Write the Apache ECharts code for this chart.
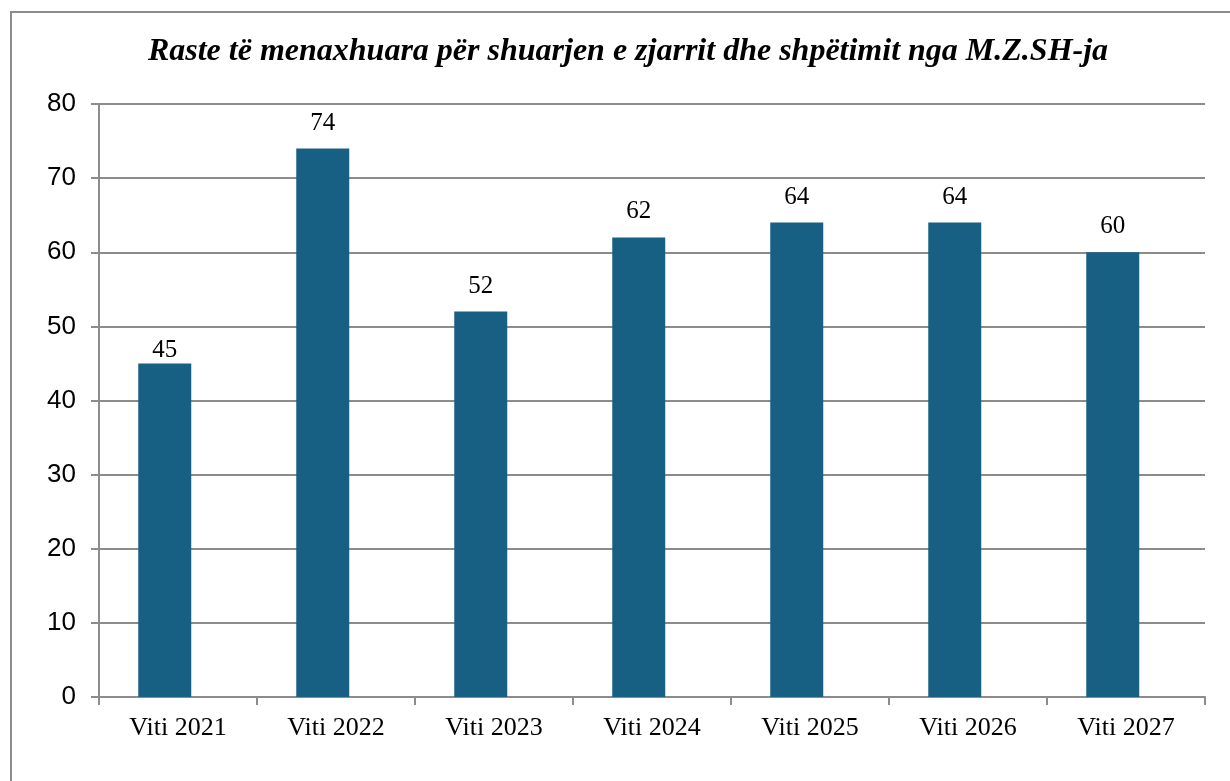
<!DOCTYPE html>
<html>
<head>
<meta charset="utf-8">
<script src="https://cdn.jsdelivr.net/npm/echarts@6/dist/echarts.min.js"></script>
<style>
  html, body { margin: 0; padding: 0; background: #fff; }
  #chart { width: 1230px; height: 781px; }
</style>
</head>
<body>
<div id="chart"></div>
<script>
const categories = ['Viti 2021', 'Viti 2022', 'Viti 2023', 'Viti 2024', 'Viti 2025', 'Viti 2026', 'Viti 2027'];
const values = [45, 74, 52, 62, 64, 64, 60];
const titleText = 'Raste të menaxhuara për shuarjen e zjarrit dhe shpëtimit nga M.Z.SH-ja';

const init = () => {
    const myChart = echarts.init(document.getElementById('chart'));
    // first label sits closer to its bar in the original
    const barData = values.map((v, i) => i === 0 ? { value: v, label: { distance: 1 } } : v);
    let option = {
        animation: false,
        title: {
            text: titleText,
            left: 623,
            top: 31,
            textAlign: 'center',
            textStyle: {
                fontFamily: 'Liberation Serif',
                fontStyle: 'italic',
                fontWeight: 'bold',
                fontSize: 32,
                color: '#000'
            }
        },
        graphic: [
            {
                type: 'rect',
                shape: { x: 11, y: 12, width: 1240, height: 800 },
                style: { fill: 'none', stroke: '#8c8c8c', lineWidth: 2 },
                z: -1
            }
        ],
        grid: {
            left: 99,
            right: 25,
            top: 104,
            bottom: 84,
            containLabel: false
        },
        xAxis: {
            type: 'category',
            data: categories,
            axisLine: { lineStyle: { color: '#8c8c8c', width: 2 } },
            axisTick: { show: true, length: 8, alignWithLabel: false, lineStyle: { color: '#8c8c8c', width: 2 } },
            axisLabel: {
                margin: 18,
                fontFamily: 'Liberation Serif',
                fontSize: 26,
                color: '#000'
            }
        },
        yAxis: {
            type: 'value',
            min: 0,
            max: 80,
            interval: 10,
            axisLine: { show: true, lineStyle: { color: '#8c8c8c', width: 2 } },
            axisTick: { show: true, length: 8, lineStyle: { color: '#8c8c8c', width: 2 } },
            splitLine: { lineStyle: { color: '#8c8c8c', width: 2 } },
            axisLabel: {
                margin: 23,
                fontFamily: 'Liberation Sans',
                fontSize: 26,
                color: '#000'
            }
        },
        series: [
            {
                data: barData,
                type: 'bar',
                barWidth: 53,
                barGap: '-50%',
                itemStyle: { color: '#186083' },
                label: {
                    show: true,
                    position: 'top',
                    distance: 13,
                    fontFamily: 'Liberation Serif',
                    fontSize: 25,
                    color: '#000'
                }
            },
            {
                // empty second slot, shifts the real bars left like the original
                data: [],
                type: 'bar',
                barWidth: 53
            }
        ]
    };
    myChart.setOption(option);
    window.addEventListener('resize', () => {
        myChart.resize();
    });
};
init();
</script>
</body>
</html>
